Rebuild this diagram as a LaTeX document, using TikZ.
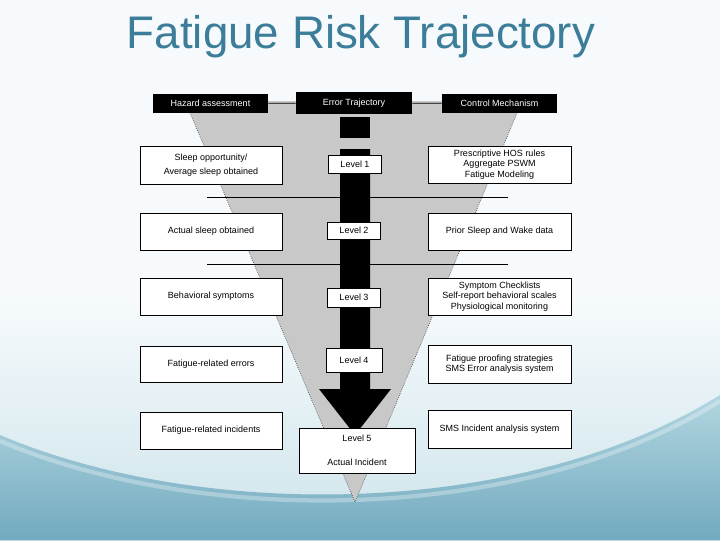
\documentclass[tikz,border=0pt]{standalone}
\usepackage{fontspec}
\setmainfont{Liberation Sans}
\definecolor{titleblue}{HTML}{3C7E99}
\definecolor{funnelgray}{HTML}{C8C8C8}
\definecolor{bgtop}{HTML}{F6FAFC}
\definecolor{bglow}{HTML}{CDE4EB}
\definecolor{wavelight}{HTML}{B2D6E0}
\definecolor{wavedark}{HTML}{72AABF}
\newcommand{\pxu}{0.025cm}
\newcommand{\boxfont}{\fontsize{6.4}{7.4}\selectfont}
\begin{document}
\begin{tikzpicture}[x=0.025cm, y=-0.025cm,
    hdr/.style={fill=black, text=white, font=\boxfont, inner sep=0pt,
        minimum width=115*\pxu, minimum height=19*\pxu},
    sidebox/.style={fill=white, draw=black, line width=0.5pt, font=\boxfont,
        align=center, inner sep=0pt, minimum width=142*\pxu, minimum height=37*\pxu},
    lvlbox/.style={fill=white, draw=black, line width=0.5pt, font=\boxfont,
        align=center, inner sep=0pt, minimum width=53*\pxu, minimum height=18*\pxu}]
    \useasboundingbox (0,0) rectangle (720,540);

    % background
    \fill[bgtop] (0,0) rectangle (720,300);
    \shade[top color=bgtop, bottom color=bglow] (0,300) rectangle (720,540);
    \shade[top color=wavelight, bottom color=wavedark]
        (0,435) .. controls (200,520) and (520,520) .. (720,395)
        -- (720,540) -- (0,540) -- cycle;
    \draw[white, opacity=0.3, line width=3pt]
        (0,441) .. controls (200,526) and (520,526) .. (720,401);

    \node[anchor=base, font=\fontsize{32.5}{36}\selectfont, text=titleblue]
        (title) at (361,48) {Fatigue Risk Trajectory};

    % funnel
    \coordinate (ftl) at (185,101);
    \coordinate (ftr) at (522,101);
    \coordinate (apex) at (355,502);
    \fill[funnelgray] (ftl) -- (ftr) -- (apex) -- cycle;
    \draw[densely dotted, line width=0.5pt, black!70] (ftl) -- (apex) -- (ftr);

    \foreach \y in {197,264}
        \draw[line width=0.5pt] (207,\y) -- (508,\y);

    % trajectory bar and arrow head
    \fill (340,117) rectangle (370,138);
    \fill (340,149) -- (340,389) -- (319,389) -- (355,435) -- (391,389)
        -- (370,389) -- (370,149) -- cycle;

    % header row
    \node[hdr] (hazard) at (210.5,103.5) {Hazard assessment};
    \node[hdr, minimum width=116*\pxu, minimum height=22*\pxu] (errtraj) at (354,103) {Error Trajectory};
    \node[hdr] (control) at (499.5,103.5) {Control Mechanism};
    \draw[line width=0.5pt] (hazard) -- (errtraj) -- (control);

    % hazard column
    \node[sidebox, minimum height=38*\pxu] (hz1) at (211,165) {Sleep opportunity/\\[2.2pt]Average sleep obtained};
    \node[sidebox] (hz2) at (211,231.5) {Actual sleep obtained};
    \node[sidebox] (hz3) at (211,296.5) {Behavioral symptoms};
    \node[sidebox, minimum height=36*\pxu] (hz4) at (211,364) {Fatigue-related errors};
    \node[sidebox] (hz5) at (211,430.5) {Fatigue-related incidents};

    % control column
    \node[sidebox, minimum width=143*\pxu] (cm1) at (499.5,164.5) {Prescriptive HOS rules\\Aggregate PSWM\\Fatigue Modeling};
    \node[sidebox, minimum width=143*\pxu] (cm2) at (499.5,231.5) {Prior Sleep and Wake data};
    \node[sidebox, minimum width=143*\pxu] (cm3) at (499.5,296.5) {Symptom Checklists\\Self-report behavioral scales\\Physiological monitoring};
    \node[sidebox, minimum width=143*\pxu, minimum height=38*\pxu] (cm4) at (499.5,364) {Fatigue proofing strategies\\SMS Error analysis system};
    \node[sidebox, minimum width=143*\pxu, minimum height=38*\pxu] (cm5) at (499.5,429) {SMS Incident analysis system};

    % levels
    \node[lvlbox] (lv1) at (355,164) {Level 1};
    \node[lvlbox, minimum height=17*\pxu] (lv2) at (354,230.5) {Level 2};
    \node[lvlbox, minimum height=19*\pxu] (lv3) at (354,297.5) {Level 3};
    \node[lvlbox, minimum width=56*\pxu, minimum height=24*\pxu] (lv4) at (354,360) {Level 4};
    \node[lvlbox, minimum width=116*\pxu, minimum height=45*\pxu] (lv5) at (357,450.5) {Level 5\\[10pt]Actual Incident};
\end{tikzpicture}
\end{document}
